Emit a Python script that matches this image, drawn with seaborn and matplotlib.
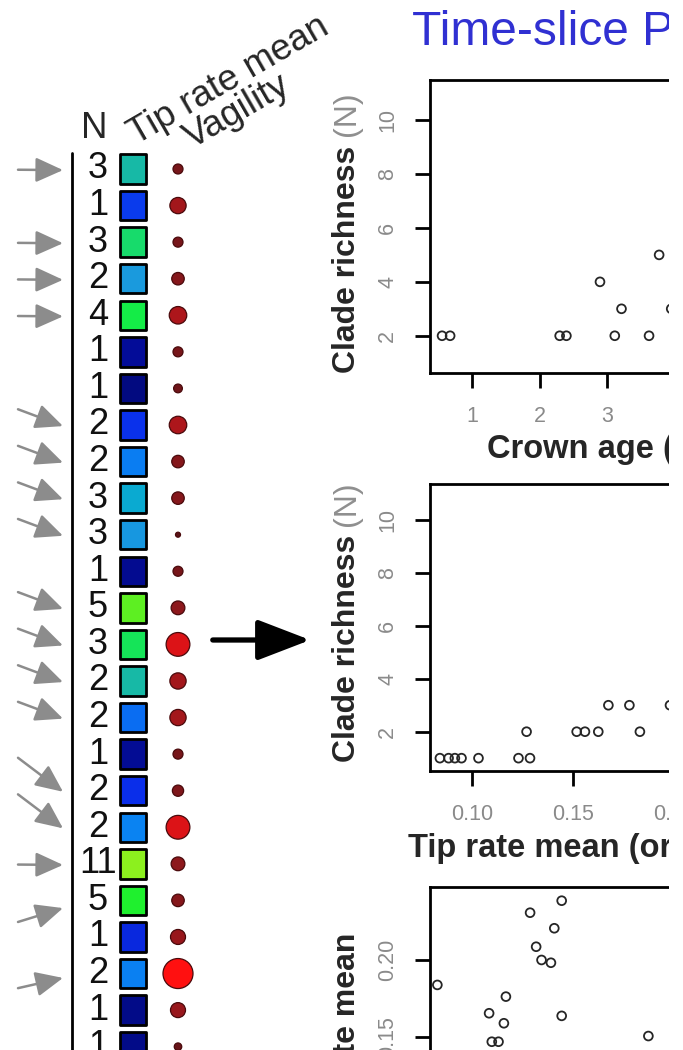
import numpy as np
import pandas as pd
import seaborn as sns
import matplotlib.pyplot as plt
from matplotlib.colors import LinearSegmentedColormap
from matplotlib.path import Path
from matplotlib.patches import Rectangle, FancyArrowPatch

# ---- left table: one row per clade ----
clade_n = [3, 1, 3, 2, 4, 1, 1, 2, 2, 3, 3, 1, 5, 3, 2, 2, 1, 2, 2, 11, 5, 1, 2, 1, 1]
tip_rate = [0.152, 0.102, 0.166, 0.136, 0.176, 0.086, 0.080, 0.099, 0.121, 0.140,
            0.134, 0.084, 0.192, 0.171, 0.152, 0.116, 0.085, 0.098, 0.123, 0.200,
            0.182, 0.096, 0.122, 0.082, 0.082]
vagility = [8, 13, 8, 10, 14, 8, 7, 14, 10, 10, 4, 8, 11, 19, 13, 13, 8, 9, 19, 11,
            10, 12, 24, 12, 6]
# h = flat arrow, d = diagonal, s = steep, u/u2 = coming from below, None = no arrow
arrow_kind = ['h', None, 'h', 'h', 'h', None, None, 'd', 'd', 'd', 'd', None, 'd', 'd',
              'd', 'd', None, 's', 's', 'h', 'u', None, 'u2', None, None]

# ---- scatter panels ----
crown_age = [0.55, 0.67, 2.30, 2.40, 3.12, 3.63, 2.90, 3.22, 3.78, 3.96]
richness_age = [2, 2, 2, 2, 2, 2, 4, 3, 5, 3]

tip_mean = [0.084, 0.0883, 0.0914, 0.0947, 0.1031, 0.1229, 0.1286, 0.1269, 0.1517,
            0.1558, 0.1624, 0.183, 0.1674, 0.1778, 0.1979]
richness_tip = [1, 1, 1, 1, 1, 1, 1, 2, 2, 2, 2, 2, 3, 3, 3]

age_b = [2.33, 1.86, 2.22, 1.95, 2.03, 2.17, 0.48, 1.50, 1.25, 1.47, 2.33, 3.62, 1.29, 1.39]
tip_b = [0.2385, 0.2307, 0.2206, 0.2086, 0.200, 0.1982, 0.1838, 0.1762, 0.1654, 0.1589,
         0.1637, 0.1506, 0.1469, 0.1469]

sns.set_style("ticks")
plt.rcParams['font.family'] = ['Liberation Sans', 'DejaVu Sans']

W, H = 683, 1050
fig = plt.figure(figsize=(W / 100, H / 100), dpi=100)


def fx(x):
    return x / W


def fy(y):
    return 1 - y / H


# ---------------- table ----------------
ROW0, ROWSTEP = 169, 36.57
tab = fig.add_axes([0, 0, 220 / W, 1])
tab.set_xlim(0, 220)
tab.set_ylim((H - ROW0) / ROWSTEP, -ROW0 / ROWSTEP)
tab.axis('off')

rows = np.arange(len(clade_n))
df = pd.DataFrame({"row": rows, "n": clade_n, "tip": tip_rate, "vag": vagility})

tip_cmap = LinearSegmentedColormap.from_list("tip", [
    (0.0, '#020A80'), (0.05, '#030C9A'), (0.15, '#0A2EEB'), (0.30, '#0A6EF2'),
    (0.36, '#0A84F2'), (0.47, '#1A9BDC'), (0.50, '#0AAAD2'), (0.60, '#17B9A6'),
    (0.72, '#17DC6A'), (0.80, '#14EC47'), (0.85, '#1EF02E'), (0.93, '#5BEF22'),
    (1.0, '#8CF01E')])
red_cmap = LinearSegmentedColormap.from_list("vag", ['#5a1216', '#8a181c', '#d0141a', '#ff1010'])

box = Path([(-29, -32), (29, -32), (29, 32), (-29, 32), (-29, -32)], closed=True)
sns.scatterplot(data=df, x=np.full(len(df), 133.0), y="row", hue="tip", palette=tip_cmap,
                hue_norm=(0.08, 0.20), marker=box, s=450, edgecolor='black',
                linewidth=2.0, legend=False, ax=tab, zorder=3)

sns.scatterplot(data=df, x=np.full(len(df), 178.0), y="row", hue="vag", palette=red_cmap,
                hue_norm=(4, 24), s=(0.9 * df["vag"].to_numpy()) ** 2,
                edgecolor='#4a0a0c', linewidth=0.9, legend=False, ax=tab, zorder=3)

for i, n in enumerate(clade_n):
    tab.text(98, i, str(n), ha='center', va='center', fontsize=26, color='#111111')

arrow_off = {'h': (0.02, 0.03), 'd': (-0.43, 0.03), 's': (-0.9, 0.03),
             'u': (0.59, 0.21), 'u2': (0.40, 0.12)}
for i, kind in enumerate(arrow_kind):
    if kind is None:
        continue
    tail, tip = arrow_off[kind]
    tab.annotate('', xy=(63, i + tip), xytext=(18, i + tail),
                 arrowprops=dict(arrowstyle='-|>,head_length=0.42,head_width=0.19',
                                 mutation_scale=40, lw=1.8, color='#8c8c8c',
                                 shrinkA=0, shrinkB=0))

tab.axvline(72, ymin=0, ymax=1 - 153 / H, color='black', lw=2)

# headers
fig.text(fx(94.5), fy(138), 'N', fontsize=26.5, ha='center', va='baseline')
fig.text(fx(136), fy(145), 'Tip rate mean', fontsize=26.5, rotation=30,
         rotation_mode='anchor', ha='left', va='baseline')
fig.text(fx(192), fy(149), 'Vagility', fontsize=26.5, rotation=30,
         rotation_mode='anchor', ha='left', va='baseline')

# big arrow towards the panels
fig.add_artist(FancyArrowPatch((fx(210), fy(640)), (fx(313), fy(640)),
                               arrowstyle='-|>,head_length=0.65,head_width=0.25',
                               mutation_scale=50, lw=3.8, color='black',
                               transform=fig.transFigure))

# title
fig.text(fx(411.7), fy(45), 'Time-slice PGLS', fontsize=34.5, color='#3030d2', va='baseline')


# ---------------- scatter panels ----------------
def panel(top, bottom):
    return fig.add_axes([fx(430), fy(bottom), (810 - 430) / W, (bottom - top) / H])


def style(ax, xt, xl, yt, yl):
    ax.set_xticks(xt, xl)
    ax.set_yticks(yt, yl)
    ax.set_xlabel('')
    ax.set_ylabel('')
    for sp in ax.spines.values():
        sp.set_visible(True)
        sp.set_linewidth(2)
        sp.set_color('black')
    ax.tick_params(length=11, width=2, color='black', labelcolor='#8a8a8a', labelsize=15.5)
    ax.tick_params(axis='y', labelrotation=90, pad=12)
    ax.tick_params(axis='x', pad=13)
    plt.setp(ax.get_yticklabels(), va='center')


pt_kw = dict(marker='o', s=40, edgecolor='#262626', linewidth=1.3, legend=False)

ax1 = panel(80.2, 372.7)
sns.scatterplot(x=crown_age, y=richness_age, ax=ax1, **pt_kw)
ax1.collections[-1].set_facecolor('none')
ax1.set_xlim(0.3705, 6.025)
ax1.set_ylim(0.63, 11.48)
style(ax1, [1, 2, 3, 4], ['1', '2', '3', ''], [2, 4, 6, 8, 10], ['2', '4', '6', '8', '10'])

ax2 = panel(484.2, 770.7)
sns.scatterplot(x=tip_mean, y=richness_tip, ax=ax2, **pt_kw)
ax2.collections[-1].set_facecolor('none')
ax2.set_xlim(0.0791, 0.2672)
ax2.set_ylim(0.526, 11.354)
style(ax2, [0.10, 0.15, 0.20], ['0.10', '0.15', '0.20'],
      [2, 4, 6, 8, 10], ['2', '4', '6', '8', '10'])

ax3 = panel(887.3, 1184)
sns.scatterplot(x=age_b, y=tip_b, ax=ax3, **pt_kw)
ax3.collections[-1].set_facecolor('none')
ax3.set_xlim(0.3705, 6.025)
ax3.set_ylim(0.0545, 0.2472)
style(ax3, [1, 2, 3, 4], ['', '', '', ''], [0.15, 0.20], ['0.15', '0.20'])

# axis titles
lab = dict(fontsize=23, rotation=90, rotation_mode='anchor', ha='left', va='center')
fig.text(fx(347), fy(372.7), 'Clade richness', fontweight='bold', **lab)
fig.text(fx(347), fy(136), '(N)', color='#8f8f8f', **lab)
fig.text(fx(347), fy(761.5), 'Clade richness', fontweight='bold', **lab)
fig.text(fx(347), fy(526), '(N)', color='#8f8f8f', **lab)
fig.text(fx(347), fy(1036), 'Tip rate mean', fontsize=23, fontweight='bold',
         rotation=90, ha='center', va='center')
fig.text(fx(486.7), fy(458), 'Crown age (Myr)', fontsize=23.5, fontweight='bold', va='baseline')
fig.text(fx(408), fy(857), 'Tip rate mean (original)', fontsize=23.5, fontweight='bold',
         va='baseline')

# the source picture is cropped: blank strip on the right edge
fig.add_artist(Rectangle((fx(669), 0), 1 - fx(669), 1, transform=fig.transFigure,
                         facecolor='white', edgecolor='none', zorder=10))

fig.savefig("out.png", dpi=100)
